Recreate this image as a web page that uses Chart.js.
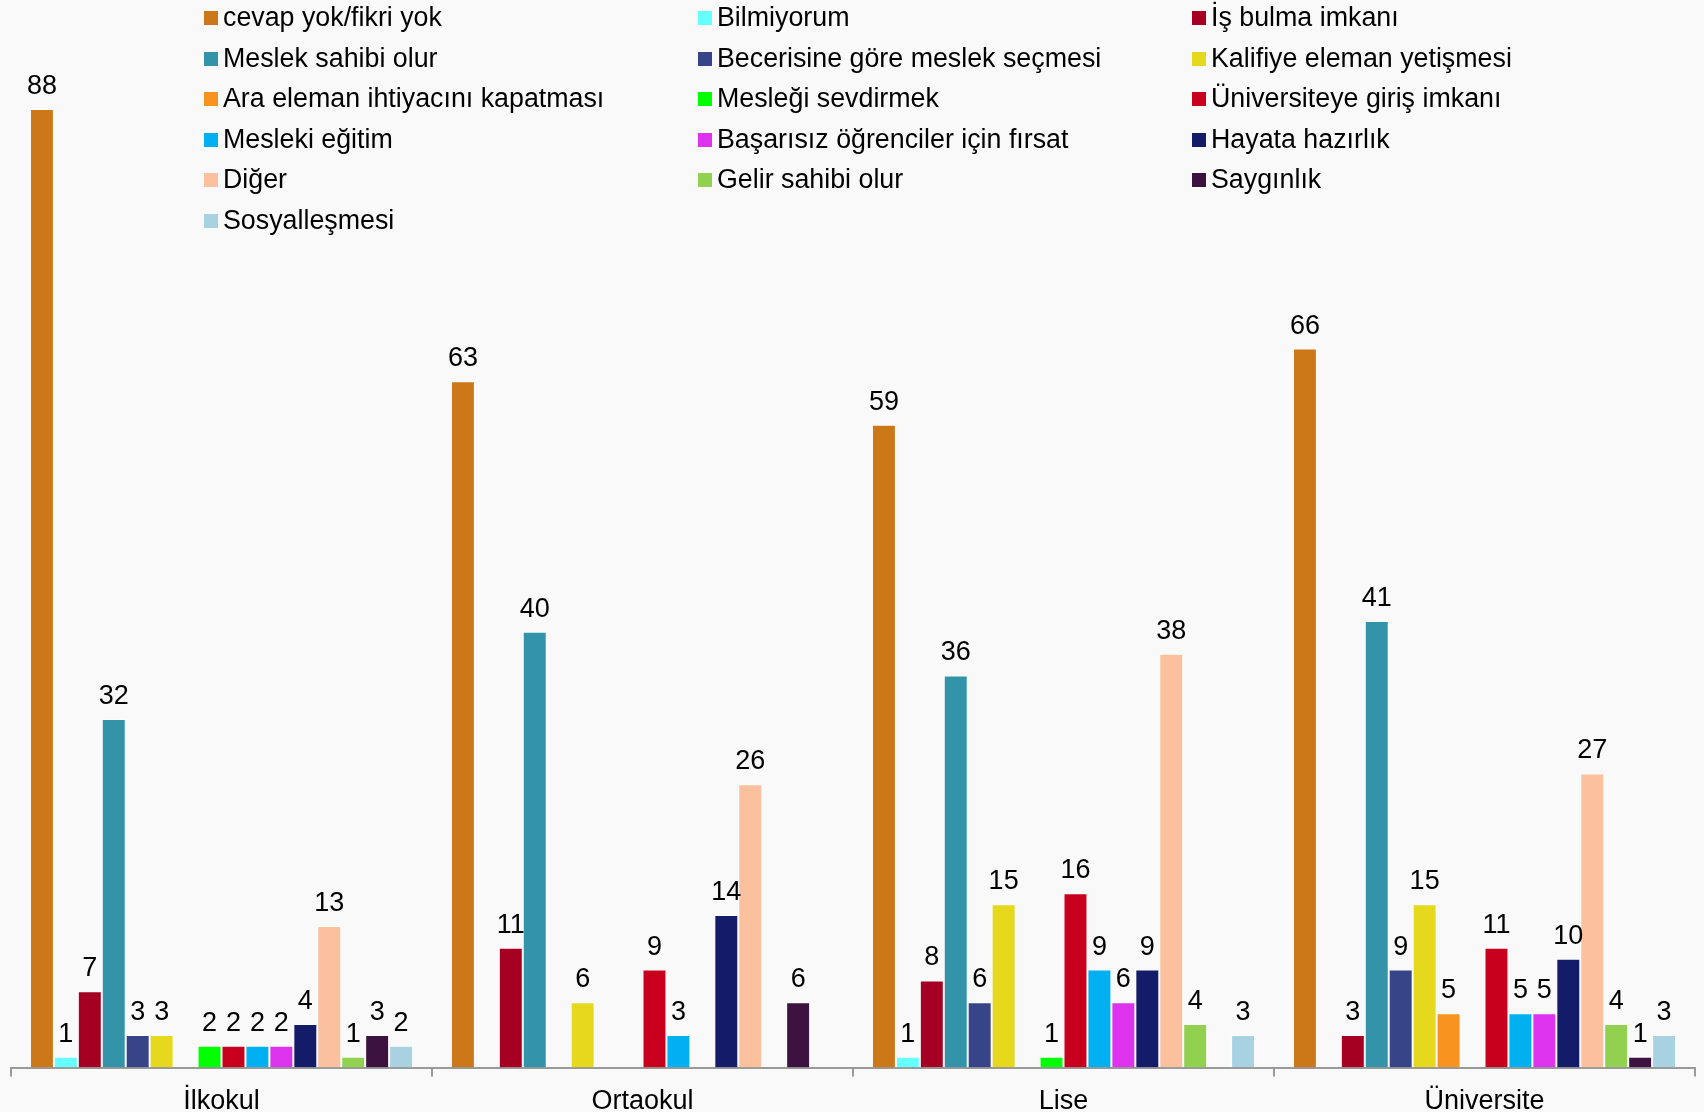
<!DOCTYPE html>
<html>
<head>
<meta charset="utf-8">
<script src="https://cdn.jsdelivr.net/npm/chart.js@4.4.1/dist/chart.umd.min.js"></script>
<style>
  body { margin: 0; background: #f9f9f9; font-family: "Liberation Sans", Arial, sans-serif; overflow: hidden; }
  #wrap { position: relative; width: 1704px; height: 1112px; overflow: hidden; }
  #legend { position: absolute; left: 204px; top: 0; width: 1500px; }
  .item { position: absolute; font-size: 26.8px; color: #000; white-space: nowrap; line-height: 28px; }
  .item span.box { display: inline-block; width: 14px; height: 14px; margin-right: 5px; vertical-align: 1px; }
</style>
</head>
<body>
<div id="wrap">
  <canvas id="chart" width="1704" height="1127"></canvas>
  <div id="legend"></div>
</div>
<script>
const categories = ["İlkokul", "Ortaokul", "Lise", "Üniversite"];

const seriesNames = [
  "cevap yok/fikri yok", "Bilmiyorum", "İş bulma imkanı",
  "Meslek sahibi olur", "Becerisine göre meslek seçmesi", "Kalifiye eleman yetişmesi",
  "Ara eleman ihtiyacını kapatması", "Mesleği sevdirmek", "Üniversiteye giriş imkanı",
  "Mesleki eğitim", "Başarısız öğrenciler için fırsat", "Hayata hazırlık",
  "Diğer", "Gelir sahibi olur", "Saygınlık",
  "Sosyalleşmesi"
];

// one row per series: İlkokul, Ortaokul, Lise, Üniversite
const seriesValues = [
  [88, 63, 59, 66],
  [1, 0, 1, 0],
  [7, 11, 8, 3],
  [32, 40, 36, 41],
  [3, 0, 6, 9],
  [3, 6, 15, 15],
  [0, 0, 0, 5],
  [2, 0, 1, 0],
  [2, 9, 16, 11],
  [2, 3, 9, 5],
  [2, 0, 6, 5],
  [4, 14, 9, 10],
  [13, 26, 38, 27],
  [1, 0, 4, 4],
  [3, 6, 0, 1],
  [2, 0, 3, 3]
];

const seriesColors = [
  "#cc7718", "#66ffff", "#a50021",
  "#3293a9", "#384488", "#e5d81d",
  "#f7931e", "#00ff00", "#c8001e",
  "#00b0f0", "#dd33ee", "#141c6a",
  "#fbc09e", "#92d050", "#3c1340",
  "#a8d2e2"
];

// HTML legend, 3 columns
const legendEl = document.getElementById("legend");
seriesNames.forEach((name, i) => {
  const d = document.createElement("div");
  d.className = "item";
  d.style.left = (i % 3) * 494 + "px";
  d.style.top = (3 + Math.floor(i / 3) * 40.5) + "px";
  d.innerHTML = '<span class="box" style="background:' + seriesColors[i] + '"></span>' + name;
  legendEl.appendChild(d);
});

// value labels above bars (skip zeros)
const valueLabels = {
  id: "valueLabels",
  afterDatasetsDraw(chart) {
    const ctx = chart.ctx;
    ctx.save();
    ctx.font = '27px "Liberation Sans", Arial, sans-serif';
    ctx.fillStyle = "#000";
    ctx.textAlign = "center";
    ctx.textBaseline = "bottom";
    chart.data.datasets.forEach((ds, i) => {
      const meta = chart.getDatasetMeta(i);
      meta.data.forEach((bar, j) => {
        if (ds.data[j] > 0) ctx.fillText(ds.data[j], bar.x, bar.y - 9);
      });
    });
    ctx.restore();
  }
};

new Chart(document.getElementById("chart"), {
  type: "bar",
  plugins: [valueLabels],
  data: {
    labels: categories,
    datasets: seriesNames.map((name, i) => ({
      label: name,
      data: seriesValues[i],
      backgroundColor: seriesColors[i],
      borderColor: "rgba(255,255,255,0.6)",
      borderWidth: 1,
      barPercentage: 1.0,
      categoryPercentage: 0.91
    }))
  },
  options: {
    responsive: false,
    animation: false,
    layout: { padding: { left: 11, right: 9, top: 0, bottom: 0 } },
    plugins: { legend: { display: false }, tooltip: { enabled: false } },
    scales: {
      x: {
        border: { display: true, color: "#999999", width: 2 },
        grid: { drawOnChartArea: false, color: "#999999", tickLength: 9, lineWidth: 2 },
        ticks: { color: "#000", font: { size: 27, family: '"Liberation Sans", Arial, sans-serif' }, padding: 9 }
      },
      y: {
        display: false,
        min: 0,
        max: 98
      }
    }
  }
});
</script>
</body>
</html>
